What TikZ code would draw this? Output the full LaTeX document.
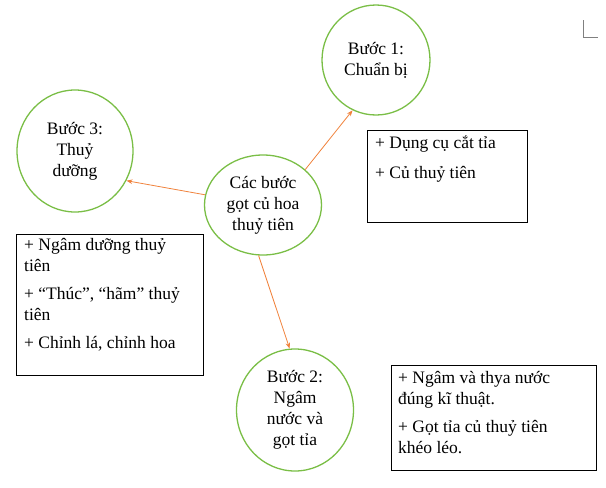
\documentclass[tikz,border=0pt]{standalone}
\usepackage{fontspec}
\setmainfont{Liberation Serif}
\usetikzlibrary{shapes.geometric,arrows.meta}
\definecolor{gr}{RGB}{122,190,70}
\definecolor{org}{RGB}{240,130,60}
\begin{document}
\begin{tikzpicture}[x=1pt,y=-1pt,
  bub/.style={draw=gr,line width=1.3pt,ellipse,align=center,inner sep=0pt,font=\fontsize{17.5}{21}\selectfont},
  box/.style={align=left,anchor=north west,font=\fontsize{17.5}{21}\selectfont,inner sep=0pt},
  frame/.style={draw=black,line width=0.9pt},
  arr/.style={draw=org,line width=0.8pt,-{Stealth[length=6pt]}}]
\useasboundingbox (0,0) rectangle (606,488);
\node[bub,minimum width=108,minimum height=110] (b1) at (376,60) {Bước 1:\\Chuẩn bị};
\node[bub,minimum width=116,minimum height=122] (b3) at (75,151) {Bước 3:\\Thuỷ\\dưỡng};
\node[bub,minimum width=117,minimum height=100] (c) at (263,205) {Các bước\\gọt củ hoa\\thuỷ tiên};
\node[bub,minimum width=117,minimum height=122] (b2) at (295,410) {Bước 2:\\Ngâm\\nước và\\gọt tỉa};
\coordinate (f1a) at (367,130); \coordinate (f1b) at (527,222);
\coordinate (f3a) at (16,234); \coordinate (f3b) at (203,375);
\coordinate (f2a) at (391,365); \coordinate (f2b) at (596,470);
\draw[frame] (f1a) rectangle (f1b);
\draw[frame] (f3a) rectangle (f3b);
\draw[frame] (f2a) rectangle (f2b);
\node[box] (x1) at (375,136) {+ Dụng cụ cắt tỉa\\[9pt]+ Củ thuỷ tiên};
\node[box] (x3) at (24,238) {+ Ngâm dưỡng thuỷ\\tiên\\[7pt]+ “Thúc”, “hãm” thuỷ\\tiên\\[7pt]+ Chỉnh lá, chỉnh hoa};
\node[box] (x2) at (398,371) {+ Ngâm và thya nước\\đúng kĩ thuật.\\[7pt]+ Gọt tỉa củ thuỷ tiên\\khéo léo.};
\draw[arr] (c.40) -- (b1.-115);
\draw[arr] (c.170) -- (b3.-30);
\draw[arr] (c.-95) -- (b2.95);
\coordinate (m1) at (583,20); \coordinate (m2) at (583,37); \coordinate (m3) at (598,37);
\draw[gray,line width=0.6pt] (m1) -- (m2) -- (m3);
\end{tikzpicture}
\end{document}
